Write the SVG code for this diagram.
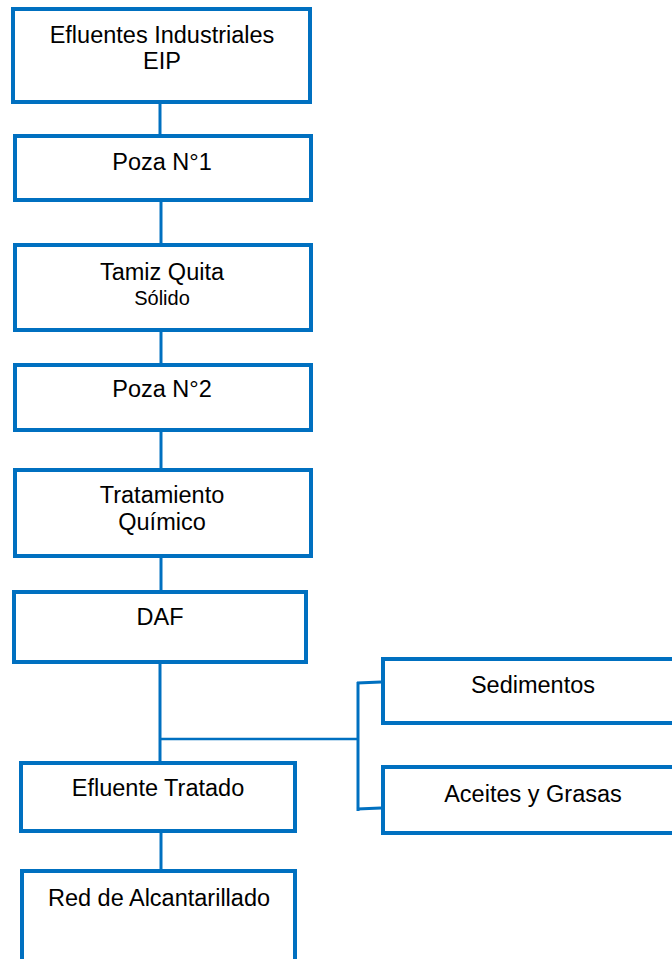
<svg xmlns="http://www.w3.org/2000/svg" width="672" height="959" viewBox="0 0 672 959">
<style>
.box{fill:#fff;stroke:#0070C0;stroke-width:4}
.c{fill:none;stroke:#0070C0;stroke-width:3}
.t{font-family:"Liberation Sans",Arial,sans-serif;font-size:23.5px;fill:#000;text-anchor:middle}
.s{font-size:20px}
</style>
<rect width="672" height="959" fill="#fff"/>
<g id="connectors">
<line class="c" x1="160" y1="104" x2="160" y2="134"/>
<line class="c" x1="161" y1="202" x2="161" y2="243"/>
<line class="c" x1="161" y1="332" x2="161" y2="363"/>
<line class="c" x1="161" y1="432" x2="161" y2="468"/>
<line class="c" x1="161" y1="558" x2="161" y2="590"/>
<line class="c" x1="160" y1="664" x2="160" y2="761"/>
<line class="c" x1="160" y1="739" x2="358" y2="739" style="stroke-width:2.5"/>
<line class="c" x1="358" y1="682" x2="358" y2="811"/>
<line class="c" x1="357" y1="683" x2="381" y2="682"/>
<line class="c" x1="357" y1="809" x2="381" y2="808"/>
<line class="c" x1="161" y1="833" x2="161" y2="869"/>
</g>
<g id="n1"><rect class="box" x="13" y="9" width="297" height="93"/><text class="t" x="162" y="43">Efluentes Industriales</text><text class="t" x="162" y="69">EIP</text></g>
<g id="n2"><rect class="box" x="15" y="136" width="296" height="64"/><text class="t" x="162" y="170">Poza N°1</text></g>
<g id="n3"><rect class="box" x="15" y="245" width="296" height="85"/><text class="t" x="162" y="280">Tamiz Quita</text><text class="t s" x="162" y="305">Sólido</text></g>
<g id="n4"><rect class="box" x="15" y="365" width="296" height="65"/><text class="t" x="162" y="397">Poza N°2</text></g>
<g id="n5"><rect class="box" x="15" y="470" width="296" height="86"/><text class="t" x="162" y="503">Tratamiento</text><text class="t" x="162" y="530">Químico</text></g>
<g id="n6"><rect class="box" x="14" y="592" width="292" height="70"/><text class="t" x="160" y="625">DAF</text></g>
<g id="n7"><rect class="box" x="21" y="763" width="274" height="68"/><text class="t" x="158" y="796">Efluente Tratado</text></g>
<g id="n8"><rect class="box" x="22" y="871" width="273" height="100"/><text class="t" x="159" y="906">Red de Alcantarillado</text></g>
<g id="n9"><rect class="box" x="383" y="659" width="300" height="64"/><text class="t" x="533" y="693">Sedimentos</text></g>
<g id="n10"><rect class="box" x="383" y="767" width="300" height="66"/><text class="t" x="533" y="802">Aceites y Grasas</text></g>
</svg>
